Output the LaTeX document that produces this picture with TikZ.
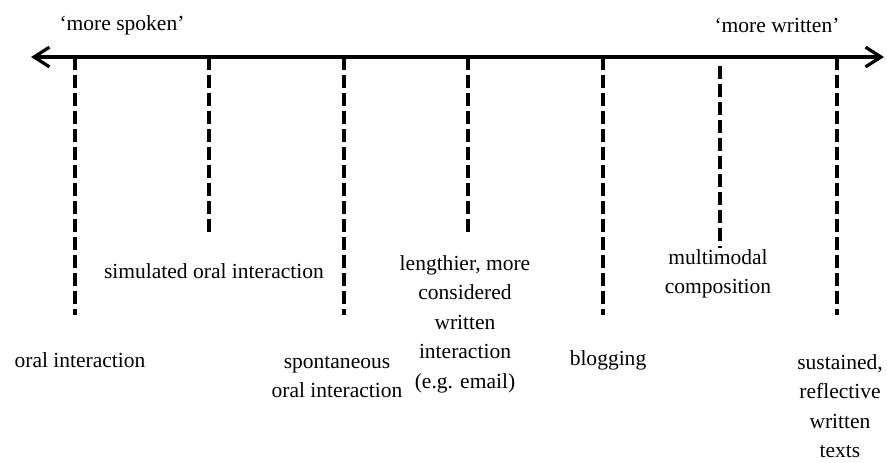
\documentclass[tikz,border=0pt]{standalone}
\usepackage{fontspec}
\setmainfont{Liberation Serif}
\usepackage{tikz}
\usetikzlibrary{arrows.meta}

\begin{document}
\begin{tikzpicture}[x=0.025cm, y=-0.025cm,
    font=\fontsize{15.3}{21}\selectfont,
    axisline/.style={line width=2.5pt, {Straight Barb[length=11pt, width=14pt, line width=2.3pt]}-{Straight Barb[length=11pt, width=14pt, line width=2.3pt]}},
    tick/.style={line width=2.4pt, dash pattern=on 9.2pt off 3.6pt},
    lbl/.style={align=center, inner sep=0pt}]
  \useasboundingbox (0,0) rectangle (887,462);

  % ── Axis (top) ──
  \coordinate (lft) at (31,57);
  \coordinate (rgt) at (884,57);
  \draw[axisline] (lft) -- (rgt);
  \node[lbl] (spoken) at (122,25) {`more spoken'};
  \node[lbl] (written) at (777,25) {`more written'};

  % ── Dashed markers ──
  \foreach \n/\x/\ya/\yb in {
    1/75/57/315,
    2/209/57/235,
    3/344/57/315,
    4/468/57/235,
    5/603/57/315,
    6/720/66/248,
    7/837/57/315} {
    \coordinate (t\n) at (\x,\ya);
    \coordinate (b\n) at (\x,\yb);
    \draw[tick] (t\n) -- (b\n);
  }

  % ── Labels ──
  \node[lbl] (oral) at (80,360) {oral interaction};
  \node[lbl] (simul) at (214,271) {simulated oral interaction};
  \node[lbl] (spont) at (337,377) {spontaneous\\oral interaction};
  \node[lbl] (email) at (465,324)
    {lengthier, more\\considered\\written\\interaction\\(e.g. email)};
  \node[lbl] (blog) at (608,360) {blogging};
  \node[lbl] (multi) at (718,274) {multimodal\\composition};
  \node[lbl] (sust) at (840,406) {sustained,\\reflective\\written\\texts};
\end{tikzpicture}
\end{document}
